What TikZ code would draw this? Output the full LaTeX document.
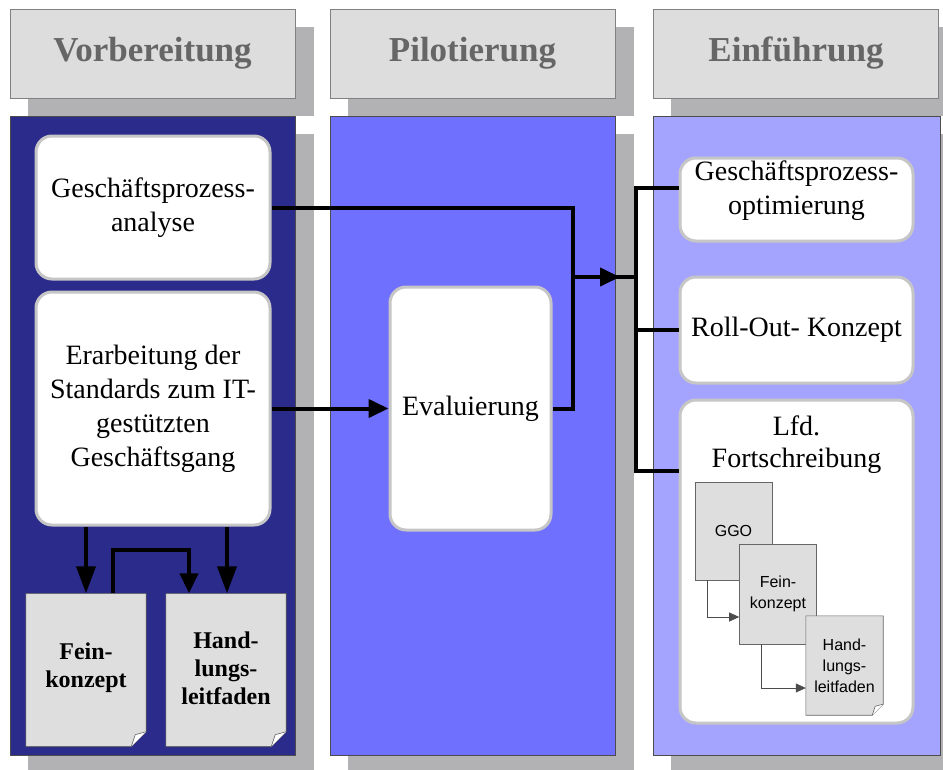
\documentclass[tikz,border=0pt]{standalone}
\usepackage{fontspec}
\setmainfont{Liberation Serif}
\newfontfamily\docsans{Liberation Sans}
\usetikzlibrary{arrows.meta,calc}
\definecolor{colA}{HTML}{2B2B8C}
\definecolor{colB}{HTML}{7070FF}
\definecolor{colC}{HTML}{A4A4FF}
\definecolor{hdrfill}{HTML}{DDDDDD}
\definecolor{hdrtext}{HTML}{666666}
\definecolor{shadowgray}{HTML}{B2B1B4}
\definecolor{docfill}{HTML}{DEDEDE}
\definecolor{boxrim}{HTML}{C6C6C6}
\tikzset{
  hdr/.style={draw=black!50, line width=0.8pt, fill=hdrfill, text=hdrtext,
    minimum width=285, minimum height=89, inner sep=0,
    font=\fontsize{35}{40}\selectfont\bfseries},
  column/.style={draw=black!70, line width=0.6pt, minimum width=285,
    minimum height=639, inner sep=0},
  procbox/.style={draw=boxrim, line width=3pt, fill=white, rounded corners=16pt,
    inner sep=0, align=center, font=\fontsize{28}{34}\selectfont},
  boxtext/.style={inner sep=0, align=center, font=\fontsize{28}{34}\selectfont},
  bigdoc/.style={inner sep=0, align=center, minimum width=120, minimum height=153,
    font=\fontsize{24}{28}\selectfont\bfseries},
  smalldoc/.style={draw=black!60, line width=0.6pt, fill=docfill, inner sep=0,
    align=center, minimum width=77, font=\docsans\fontsize{16}{21}\selectfont},
  flow/.style={line width=4pt},
  flowarr/.style={line width=4pt, -{Triangle[length=20pt,width=18pt]}},
  longarr/.style={line width=4pt, -{Triangle[length=27pt,width=19pt]}},
  thinarr/.style={line width=0.6pt, draw=black!70, -{Triangle[length=10pt,width=9pt]}}
}
\begin{document}
\begin{tikzpicture}[x=1pt,y=-1pt]
\useasboundingbox (0,0) rectangle (943,769);

% drop shadows
\fill[shadowgray] (28,27) rectangle (314,116);
\fill[shadowgray] (348,27) rectangle (634,116);
\fill[shadowgray] (671,27) rectangle (957,116);
\fill[shadowgray] (28,134) rectangle (314,773);
\fill[shadowgray] (348,134) rectangle (634,773);
\fill[shadowgray] (671,134) rectangle (957,773);

% phase headers
\node[hdr] (h1) at (152.5,53.5) {Vorbereitung};
\node[hdr] (h2) at (472.5,53.5) {Pilotierung};
\node[hdr] (h3) at (796,53.5) {Einführung};

% phase columns
\node[column, fill=colA] (c1) at (152.5,435.5) {};
\node[column, fill=colB] (c2) at (472.5,435.5) {};
\node[column, fill=colC, minimum width=287] (c3) at (796.5,435.5) {};

% Vorbereitung
\node[procbox, minimum width=234, minimum height=143] (ana) at (153,207.5)
  {Geschäftsprozess-\\analyse};
\node[procbox, minimum width=234, minimum height=233] (erarb) at (153,408.5)
  {Erarbeitung der\\Standards zum IT-\\gestützten\\Geschäftsgang};

% documents with a folded lower right corner
\node[bigdoc] (fein) at (86,670) {};
\node[bigdoc] (hand) at (226,670) {};
\foreach \d in {fein,hand}{
  \fill[docfill, draw=black!70, line width=0.6pt]
    (\d.north west) -- (\d.north east) -- ([yshift=15pt]\d.south east)
    -- ([xshift=-15pt]\d.south east) -- (\d.south west) -- cycle;
  \draw[black!60, line width=0.6pt, fill=white]
    ([xshift=-15pt]\d.south east) -- ([xshift=-11pt,yshift=12pt]\d.south east)
    -- ([yshift=15pt]\d.south east);
}
\node[bigdoc] (feintext) at ([yshift=2pt]fein) {Fein-\\konzept};
\node[bigdoc] (handtext) at ([yshift=2pt]hand) {Hand-\\lungs-\\leitfaden};

\draw[longarr] (erarb.south -| fein.north) -- (fein.north);
\draw[longarr] ([xshift=1pt]erarb.south -| hand.north) -- ([xshift=1pt]hand.north);
\draw[flowarr] ([xshift=27pt]fein.north) -- ++(0,-43) -| ([xshift=-37pt]hand.north);

% Pilotierung
\node[procbox, minimum width=161, minimum height=243] (eval) at (470.5,408.5)
  {Evaluierung};
\draw[flowarr] (erarb.east) -- (eval.west);

% Einführung
\node[procbox, minimum width=233, minimum height=83] (opt) at (796.5,199.5) {};
\node[boxtext] (opttext) at ([yshift=9pt]opt.center) {Geschäftsprozess-\\optimierung};
\node[procbox, minimum width=233, minimum height=106] (roll) at (796.5,330)
  {Roll-Out- Konzept};
\node[procbox, minimum width=233, minimum height=323] (lfd) at (796.5,561.5) {};
\node[align=center, font=\fontsize{28}{32}\selectfont, anchor=north] (lfdtext)
  at (796.5,412) {Lfd.\\Fortschreibung};

\node[smalldoc, minimum height=98] (ggo) at (733.5,531) {GGO};
\node[smalldoc, minimum height=100] (fk) at (778,594) {Fein-\\konzept};
\node[inner sep=0, minimum width=77, minimum height=99] (hl) at (844.5,665.5) {};
\fill[docfill, draw=black!60, line width=0.6pt]
  (hl.north west) -- (hl.north east) -- ([yshift=11pt]hl.south east)
  -- ([xshift=-11pt]hl.south east) -- (hl.south west) -- cycle;
\draw[black!60, line width=0.6pt, fill=white]
  ([xshift=-11pt]hl.south east) -- ([xshift=-8pt,yshift=9pt]hl.south east)
  -- ([yshift=11pt]hl.south east);
\node[align=center, font=\docsans\fontsize{16}{21}\selectfont] (hltext) at (hl) {Hand-\\lungs-\\leitfaden};

\draw[thinarr] ([xshift=-26.5pt]ggo.south) |- (fk.west |- 0,617);
\draw[thinarr] ([xshift=-17pt]fk.south) |- (hl.west |- 0,688);

% connectors between the phases
\coordinate (split) at (573,277);
\coordinate (bar) at (636,277);
\draw[flow] (ana.east) -| (split) |- (eval.east);
\draw[flow] (split) -- (bar);
\draw[flowarr] (split) -- (620,277);
\draw[flow] (opt.west |- 0,188) -| (bar |- 0,188) -- (bar |- 0,471) -- (lfd.west |- 0,471);
\draw[flow] (bar |- roll.west) -- (roll.west);
\end{tikzpicture}
\end{document}
